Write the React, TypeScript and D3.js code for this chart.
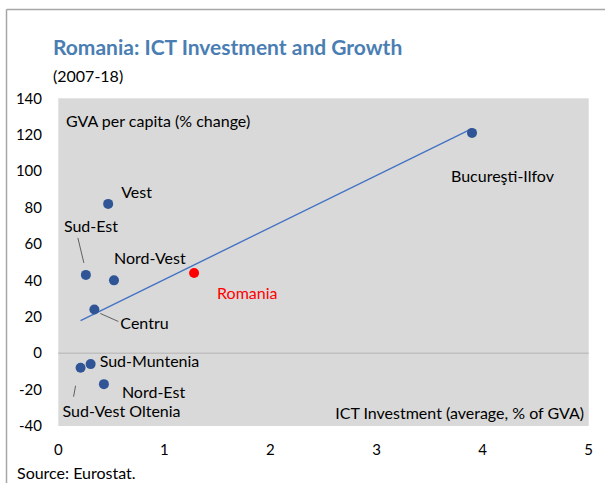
import React from "react";
import * as d3 from "d3";

const regions = ["Bucureşti-Ilfov", "Vest", "Sud-Est", "Nord-Vest", "Centru", "Sud-Muntenia", "Sud-Vest Oltenia", "Nord-Est"];
const ictInvestment = [3.9, 0.47, 0.26, 0.525, 0.34, 0.305, 0.21, 0.43];
const gvaGrowth = [121, 82, 43, 40, 24, -6, -8, -17];
const romaniaPoint = { name: "Romania", x: 1.28, y: 44 };
const xTicks = [0, 1, 2, 3, 4, 5];
const yTicks = [-40, -20, 0, 20, 40, 60, 80, 100, 120, 140];

// label placement offsets (pixels from point)
const labelOffsets: Record<string, { dx: number; dy: number; leader?: [number, number, number, number] }> = {
  "Bucureşti-Ilfov": { dx: -21, dy: 44 },
  Vest: { dx: 13, dy: -11 },
  "Sud-Est": { dx: -22, dy: -48, leader: [-8, -37, -2, -12] },
  "Nord-Vest": { dx: 0, dy: -22 },
  Centru: { dx: 26, dy: 14, leader: [6, 4, 24, 12] },
  "Sud-Muntenia": { dx: 9, dy: -3 },
  "Sud-Vest Oltenia": { dx: -18, dy: 44, leader: [-5, 18, -7, 29] },
  "Nord-Est": { dx: 18, dy: 8 },
};

const W = 605;
const H = 483;
const PL = 58.3, PR = 588.7, PT = 98.3, PB = 426;
const FONT = "Lato, 'Open Sans', sans-serif";
const BLUE = "#2f5597";
const FS = 16;

export default function App() {
  const x = d3.scaleLinear().domain([0, 5]).range([PL, PR]);
  const y = d3.scaleLinear().domain([-40, 140]).range([PB, PT]);

  // linear trend over regions
  const mx = d3.mean(ictInvestment)!;
  const my = d3.mean(gvaGrowth)!;
  let sxy = 0, sxx = 0;
  ictInvestment.forEach((v, i) => {
    sxy += (v - mx) * (gvaGrowth[i] - my);
    sxx += (v - mx) * (v - mx);
  });
  const slope = sxy / sxx;
  const intercept = my - slope * mx;
  const [xmin, xmax] = d3.extent(ictInvestment) as [number, number];
  const line = d3.line<number>().x((d) => x(d)).y((d) => y(intercept + slope * d));

  return (
    <svg width={W} height={H} style={{ position: "absolute", left: 0, top: 0, background: "#fff" }}>
      <line x1={6.5} y1={9.5} x2={W} y2={9.5} stroke="#a6a6a6" strokeWidth={1.5} />
      <line x1={6.5} y1={9.5} x2={6.5} y2={H} stroke="#a6a6a6" strokeWidth={1.5} />
      <text x={53} y={55} fontFamily={FONT} fontWeight="bold" fontSize={21} fill="#4a7eb3">
        Romania: ICT Investment and Growth
      </text>
      <text x={53} y={82} fontFamily={FONT} fontSize={FS} fill="#000">(2007-18)</text>

      <rect x={PL} y={PT} width={PR - PL} height={PB - PT} fill="#d9d9d9" />
      <line x1={PL} x2={PR} y1={y(0)} y2={y(0)} stroke="#bfbfbf" strokeWidth={1.5} />

      {yTicks.map((t) => (
        <text key={t} x={42} y={y(t)} dy="0.35em" textAnchor="end" fontFamily={FONT} fontSize={15} fill="#000">
          {t}
        </text>
      ))}
      {xTicks.map((t) => (
        <text key={t} x={x(t)} y={450} dy="0.35em" textAnchor="middle" fontFamily={FONT} fontSize={15} fill="#000">
          {t}
        </text>
      ))}

      <text x={66} y={121.7} dy="0.35em" fontFamily={FONT} fontSize={FS} fill="#000">GVA per capita (% change)</text>
      <text x={584} y={413.3} dy="0.35em" textAnchor="end" fontFamily={FONT} fontSize={FS} fill="#000">
        ICT Investment (average, % of GVA)
      </text>

      <path d={line([xmin, xmax]) || ""} fill="none" stroke="#4472c4" strokeWidth={1.4} />

      {regions.map((r, i) => {
        const px = x(ictInvestment[i]);
        const py = y(gvaGrowth[i]);
        const o = labelOffsets[r];
        return (
          <g key={r}>
            <circle cx={px} cy={py} r={5} fill={BLUE} />
            {o.leader && (
              <line x1={px + o.leader[0]} y1={py + o.leader[1]} x2={px + o.leader[2]} y2={py + o.leader[3]} stroke="#404040" strokeWidth={0.8} />
            )}
            <text x={px + o.dx} y={py + o.dy} dy="0.35em" fontFamily={FONT} fontSize={FS} fill="#000">
              {r}
            </text>
          </g>
        );
      })}

      <circle cx={x(romaniaPoint.x)} cy={y(romaniaPoint.y)} r={5} fill="#ff0000" />
      <text x={x(romaniaPoint.x) + 23} y={y(romaniaPoint.y) + 20} dy="0.35em" fontFamily={FONT} fontSize={FS} fill="#ff0000">
        {romaniaPoint.name}
      </text>

      <text x={17} y={473} dy="0.35em" fontFamily={FONT} fontSize={FS} fill="#000">Source: Eurostat.</text>
    </svg>
  );
}
